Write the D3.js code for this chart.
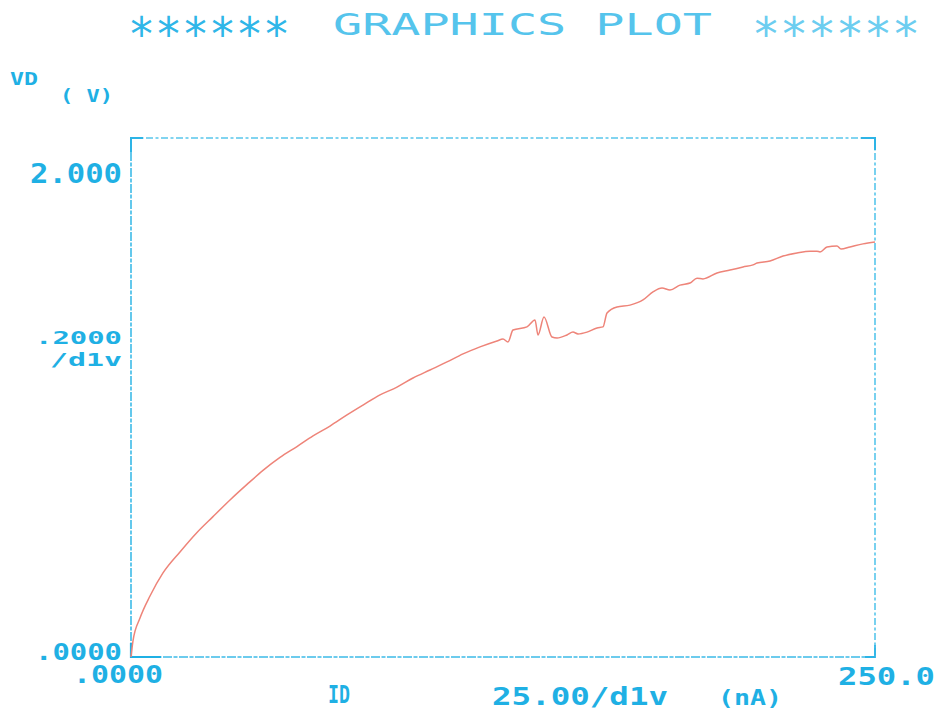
<!DOCTYPE html>
<html>
<head>
<meta charset="utf-8">
<script src="https://cdn.jsdelivr.net/npm/d3@7"></script>
<style>
  html, body { margin: 0; padding: 0; background: #fff; }
  svg { display: block; }
  .lbl { font-family: "DejaVu Sans Mono", monospace; font-weight: bold; fill: #1fb0e4; }
</style>
</head>
<body>
<div id="plot"></div>
<script>
// sweep: drain current ID (nA) vs drain voltage VD (V)
var currentNA = [0, 0.67, 3.02, 6.38, 10.75, 16.46, 22.18, 27.55, 33.27, 38.98, 44.35, 50.07,
  55.78, 61.16, 66.87, 72.58, 77.96, 83.67, 89.38, 94.76, 100.47, 106.18, 111.56, 117.27,
  122.98, 125.0, 126.68, 128.36, 133.06, 135.75, 136.76, 138.78, 141.46, 143.15, 146.51,
  148.52, 150.2, 153.23, 156.59, 158.6, 159.95, 163.31, 167.67, 172.04, 175.4, 178.43,
  181.11, 184.48, 187.84, 190.19, 192.2, 196.91, 201.28, 205.65, 209.01, 210.35, 214.72,
  219.09, 223.79, 228.16, 230.51, 231.52, 233.87, 237.23, 238.58, 241.6, 245.97, 250];
var voltageV = [0, 0.062, 0.150, 0.235, 0.324, 0.405, 0.480, 0.541, 0.605, 0.665, 0.719, 0.769,
  0.811, 0.852, 0.890, 0.933, 0.971, 1.010, 1.040, 1.075, 1.106, 1.137, 1.168, 1.195,
  1.218, 1.225, 1.214, 1.260, 1.272, 1.299, 1.241, 1.310, 1.233, 1.229, 1.241,
  1.252, 1.245, 1.252, 1.268, 1.272, 1.326, 1.349, 1.356, 1.376, 1.407, 1.422,
  1.414, 1.433, 1.441, 1.460, 1.457, 1.480, 1.491, 1.503, 1.511, 1.518, 1.526,
  1.545, 1.557, 1.564, 1.564, 1.561, 1.580, 1.584, 1.572, 1.580, 1.592, 1.599];

var xRange = [0, 250];   // nA
var yRange = [0, 2];     // V
var xLabels = [".0000", "250.0"];
var yLabels = ["2.000", ".2000", ".0000"];
var titleParts = ["******", "GRAPHICS PLOT", "******"];

var W = 938, H = 711;
var svg = d3.select("#plot").append("svg")
  .attr("width", W).attr("height", H);

var x = d3.scaleLinear().domain(xRange).range([131, 875]);
var y = d3.scaleLinear().domain(yRange).range([657, 138]);

// title, in three pieces so the stars can be full height
var tFont = "'DejaVu Sans Mono', monospace";
svg.append("text")
  .attr("x", 128).attr("y", 50)
  .attr("textLength", 162).attr("lengthAdjust", "spacingAndGlyphs")
  .style("font-family", tFont).style("font-size", "46px")
  .style("fill", "#2fb6e8")
  .text(titleParts[0]);
svg.append("text")
  .attr("x", 333).attr("y", 35)
  .attr("textLength", 379).attr("lengthAdjust", "spacingAndGlyphs")
  .style("font-family", tFont).style("font-size", "31px")
  .style("fill", "#55c4ec")
  .text(titleParts[1]);
svg.append("text")
  .attr("x", 752).attr("y", 50)
  .attr("textLength", 168).attr("lengthAdjust", "spacingAndGlyphs")
  .style("font-family", tFont).style("font-size", "46px")
  .style("fill", "#6ccdf0")
  .text(titleParts[2]);

// frame - the plotter pen leaves a broken line
var pen = "#58c6ec";
var edges = [
  [x(0), y(2), x(250), y(2)],
  [x(250), y(2), x(250), y(0)],
  [x(0), y(0), x(250), y(0)],
  [x(0), y(0), x(0), y(2)]
];
svg.selectAll(".edge")
  .data(edges)
  .enter().append("line")
  .attr("class", "edge")
  .attr("x1", function(d) { return d[0]; })
  .attr("y1", function(d) { return d[1]; })
  .attr("x2", function(d) { return d[2]; })
  .attr("y2", function(d) { return d[3]; })
  .style("stroke", function(d, i) { return i >= 2 ? "#3dbbe8" : pen; })
  .style("stroke-width", 1.6)
  .style("stroke-dasharray", function(d, i) { return i >= 2 ? "9,1.5,4,1.5" : "7,2.5,3,2.5"; });

// corner hooks, slightly heavier
svg.append("path")
  .attr("d", "M" + x(0) + "," + (y(2) + 14) + "V" + y(2) + "H" + (x(0) + 12))
  .style("fill", "none").style("stroke", "#2db4e6").style("stroke-width", 2);
svg.append("path")
  .attr("d", "M" + (x(250) - 14) + "," + y(2) + "H" + x(250) + "V" + (y(2) + 12))
  .style("fill", "none").style("stroke", "#2db4e6").style("stroke-width", 2);
svg.append("path")
  .attr("d", "M" + x(0) + "," + (y(0) - 14) + "V" + y(0) + "H" + (x(0) + 30))
  .style("fill", "none").style("stroke", "#1fb0e4").style("stroke-width", 2.2);
svg.append("path")
  .attr("d", "M" + (x(250) - 10) + "," + y(0) + "H" + x(250) + "V" + (y(0) - 12))
  .style("fill", "none").style("stroke", "#2db4e6").style("stroke-width", 1.8);

// the trace (monotone smoothing keeps the glitches without overshoot)
var line = d3.line()
  .curve(d3.curveMonotoneX)
  .x(function(d, i) { return x(currentNA[i]); })
  .y(function(d, i) { return y(voltageV[i]); });
svg.append("path")
  .datum(voltageV)
  .attr("d", line)
  .style("fill", "none")
  .style("stroke", "#ee8479")
  .style("stroke-width", 1.5)
  .style("stroke-linejoin", "round");

// axis labels
function label(t, px, py, size, len, anchor) {
  var el = svg.append("text")
    .attr("class", "lbl")
    .attr("x", px).attr("y", py)
    .style("font-size", size + "px")
    .attr("text-anchor", anchor || "end")
    .text(t);
  if (len) el.attr("textLength", len).attr("lengthAdjust", "spacingAndGlyphs");
  return el;
}

label("VD", 10, 85, 18, 28, "start");
label("( V)", 60, 102, 18, 53, "start");

label(yLabels[0], x(0) - 9, y(2) + 45, 26, 92);
label(yLabels[1], x(0) - 9, y(1) - 54, 18, 87);
label("/d1v", x(0) - 9, y(1) - 32, 18, 72);
label(yLabels[2], x(0) - 9, y(0) + 3, 23, 87);

label(xLabels[0], x(0) + 32, y(0) + 26, 25, 90);
label(xLabels[1], 935, y(0) + 28, 25, 97);

label("ID", 328, 703, 24, 22, "start");
label("25.00/d1v", 492, 705, 24, 176, "start");
label("(nA)", 718, 705, 22, 64, "start");
</script>
</body>
</html>
